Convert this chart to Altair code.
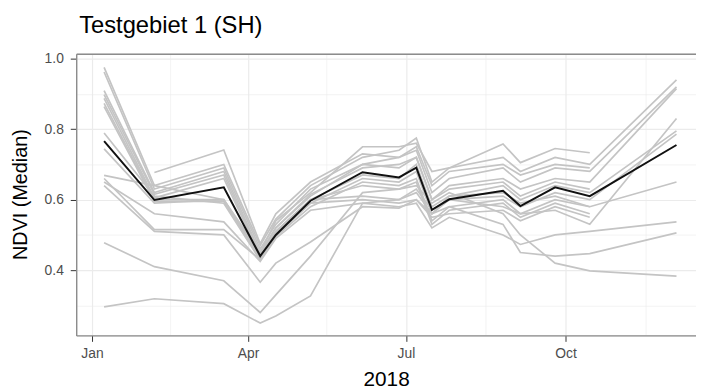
import altair as alt
import pandas as pd

# ---- data ----
dates = ["2018-01-08", "2018-02-06", "2018-03-18", "2018-04-08", "2018-04-17",
         "2018-05-07", "2018-06-06", "2018-06-27", "2018-07-07", "2018-07-16",
         "2018-07-26", "2018-08-26", "2018-09-05", "2018-09-25", "2018-10-15",
         "2018-12-04"]

median = [0.766, 0.599, 0.635, 0.440, 0.500, 0.597, 0.678, 0.663, 0.691, 0.571,
          0.601, 0.625, 0.582, 0.635, 0.610, 0.755]

s01 = [0.975, 0.640, 0.700, 0.470, 0.545, 0.640, 0.720, 0.740, 0.775, 0.650, 0.690, 0.720, 0.680, 0.720, 0.700, 0.940]
s02 = [0.962, 0.630, 0.690, 0.460, 0.530, 0.630, 0.700, 0.720, 0.740, 0.620, 0.660, 0.690, 0.650, 0.690, 0.680, 0.920]
s03 = [0.909, 0.620, 0.680, 0.450, 0.540, 0.620, 0.750, 0.750, 0.760, 0.680, 0.690, 0.758, 0.705, 0.745, 0.733, None]
s04 = [0.898, 0.615, 0.670, 0.445, 0.520, 0.615, 0.690, 0.700, 0.720, 0.600, 0.640, 0.660, 0.630, 0.660, 0.650, 0.915]
s05 = [0.887, 0.605, 0.660, 0.440, 0.510, 0.600, 0.670, 0.660, 0.700, 0.580, 0.610, 0.640, 0.600, 0.640, 0.620, 0.795]
s06 = [0.873, 0.600, 0.600, 0.435, 0.500, 0.590, 0.660, 0.650, 0.680, 0.560, 0.600, 0.610, 0.580, 0.620, 0.600, 0.786]
s07 = [0.864, 0.595, 0.595, 0.430, 0.495, 0.580, 0.650, 0.640, 0.660, 0.540, 0.580, 0.600, 0.560, 0.570, 0.530, 0.830]
s08 = [0.789, 0.610, 0.590, 0.428, 0.505, 0.600, 0.640, 0.630, 0.650, 0.530, 0.570, 0.590, 0.550, 0.590, 0.560, None]
s09 = [0.744, 0.590, 0.600, 0.450, 0.520, 0.610, 0.700, 0.690, 0.720, 0.600, 0.630, 0.650, 0.610, 0.650, 0.630, None]
s10 = [None, 0.677, 0.741, 0.475, 0.560, 0.650, 0.730, 0.720, 0.750, 0.640, 0.680, 0.700, 0.670, 0.700, 0.690, None]
s11 = [0.669, 0.640, 0.600, 0.440, 0.510, 0.600, 0.610, 0.600, 0.620, 0.560, 0.610, 0.620, 0.590, 0.610, 0.580, 0.650]
s12 = [0.660, 0.515, 0.515, 0.430, 0.500, 0.590, 0.600, 0.590, 0.600, 0.550, 0.560, 0.570, 0.540, 0.580, 0.550, None]
s13 = [0.650, 0.560, 0.537, 0.425, 0.490, 0.570, 0.590, 0.580, 0.590, 0.520, 0.550, 0.500, 0.473, 0.500, 0.510, 0.537]
s14 = [0.640, 0.510, 0.500, 0.366, 0.420, 0.480, 0.580, 0.576, 0.600, 0.560, 0.580, 0.530, 0.450, 0.440, 0.447, 0.506]
s15 = [0.478, 0.410, 0.370, 0.280, 0.330, 0.440, 0.620, 0.630, 0.640, 0.590, 0.620, 0.560, 0.500, 0.420, 0.398, 0.383]
s16 = [0.296, 0.319, 0.305, 0.250, 0.270, 0.327, 0.590, 0.600, 0.630, 0.570, 0.600, 0.580, 0.560, 0.600, 0.580, None]

series = {"s01": s01, "s02": s02, "s03": s03, "s04": s04, "s05": s05, "s06": s06,
          "s07": s07, "s08": s08, "s09": s09, "s10": s10, "s11": s11, "s12": s12,
          "s13": s13, "s14": s14, "s15": s15, "s16": s16}

x_major = ["2018-01-01", "2018-04-01", "2018-07-01", "2018-10-01"]
x_minor = ["2018-02-15", "2018-05-16", "2018-08-16", "2018-11-16"]
y_ticks = [0.3, 0.4, 0.5, 0.6, 0.7, 0.8, 0.9, 1.0]

rows = []
for name, vals in series.items():
    for d, v in zip(dates, vals):
        if v is not None:
            rows.append({"date": d, "id": name, "ndvi": v})
grey_df = pd.DataFrame(rows)
med_df = pd.DataFrame({"date": dates, "ndvi": median})

FONT = "Liberation Sans"
BORDER = "#8c8c8c"
GRID = "#EBEBEB"


def dt(s, h=0):
    y, m, d = (int(p) for p in s.split("-"))
    return alt.DateTime(year=y, month=m, date=d, hours=h, utc=True)


x_scale = alt.Scale(type="utc", domain=[dt("2017-12-22", 22), dt("2018-12-15", 6)])
y_scale = alt.Scale(domain=[0.215, 1.014], nice=False, zero=False)

x_test = "utcmonth(datum.value) % 3 == 0"
y_test = "round(datum.value * 10) % 2 == 0"

x_axis = alt.Axis(
    values=[dt(s) for s in x_major + x_minor],
    labelExpr="utcmonth(datum.value) % 3 == 0 ? utcFormat(datum.value, '%b') : ''",
    grid=True,
    gridColor=GRID,
    gridWidth={"condition": {"test": x_test, "value": 1.2}, "value": 0.6},
    tickColor={"condition": {"test": x_test, "value": "#333333"}, "value": "transparent"},
    tickSize=6,
    domainColor=BORDER, domainWidth=1.4,
    labelFont=FONT, labelFontSize=14, labelColor="#4D4D4D", labelPadding=5,
    title="2018", titleFont=FONT, titleFontSize=21, titleFontWeight="normal",
    titleColor="#000000", titleBaseline="middle", titleY=45,
)

x_axis_top = alt.Axis(orient="top", labels=False, ticks=False, grid=False,
                      domainColor=BORDER, domainWidth=1.4, title=None)

y_axis = alt.Axis(
    values=y_ticks,
    labelExpr="round(datum.value * 10) % 2 == 0 ? format(datum.value, '.1f') : ''",
    grid=True,
    gridColor=GRID,
    gridWidth={"condition": {"test": y_test, "value": 1.2}, "value": 0.6},
    tickColor={"condition": {"test": y_test, "value": "#333333"}, "value": "transparent"},
    tickSize=6,
    domainColor=BORDER, domainWidth=1.4,
    labelFont=FONT, labelFontSize=14, labelColor="#4D4D4D", labelPadding=7,
    title="NDVI (Median)", titleFont=FONT, titleFontSize=20, titleFontWeight="normal",
    titleColor="#000000", titleBaseline="middle", titleX=-56, titleY=142,
)

grey = alt.Chart(grey_df).mark_line(color="#C4C4C4", strokeWidth=1.7).encode(
    x=alt.X("date:T", scale=x_scale, axis=x_axis),
    y=alt.Y("ndvi:Q", scale=y_scale, axis=y_axis),
    detail="id:N",
)

black = alt.Chart(med_df).mark_line(color="#111111", strokeWidth=2).encode(
    x=alt.X("date:T", scale=x_scale, axis=x_axis_top),
    y=alt.Y("ndvi:Q", scale=y_scale, axis=y_axis),
)

chart = alt.layer(grey, black).resolve_axis(x="independent").properties(
    width=627,
    height=285,
    autosize=alt.AutoSizeParams(type="none"),
    padding={"left": 69, "top": 44, "right": 0, "bottom": 53},
    title=alt.TitleParams("Testgebiet 1 (SH)", anchor="start", frame="group",
                          font=FONT, fontSize=24, fontWeight="normal",
                          color="#000000", offset=14, dx=3),
).configure_view(stroke=None).configure(background="white")

chart.save("out.html", embed_options={"renderer": "svg", "actions": False})
